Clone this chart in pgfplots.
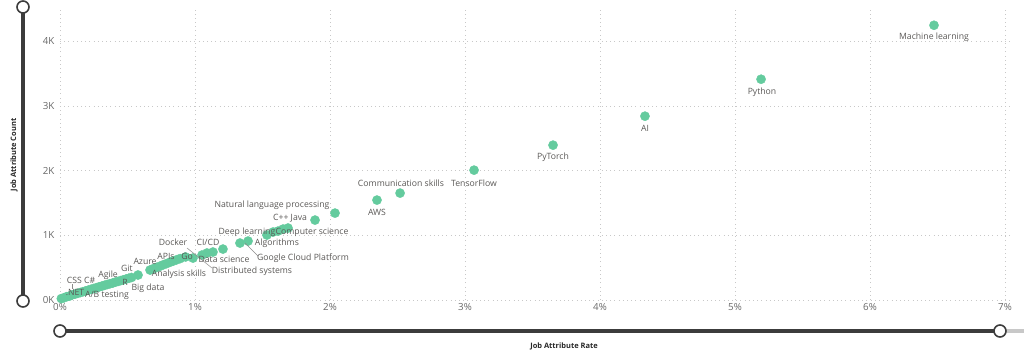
\documentclass[border=0pt]{standalone}
\usepackage{fontspec}
\setmainfont{Open Sans}
\usepackage{pgfplots}
\pgfplotsset{compat=1.18}
\definecolor{pt}{RGB}{100,203,158}
\definecolor{lbl}{RGB}{90,88,86}
\definecolor{tickc}{RGB}{105,105,105}
\definecolor{grd}{RGB}{200,200,200}
\definecolor{sl}{RGB}{60,60,60}
\definecolor{sllight}{RGB}{200,200,200}
\definecolor{ttl}{RGB}{40,40,40}
\pgfplotstableread{
x y
0.01 22
0.03 35
0.05 52
0.07 60
0.09 80
0.11 90
0.13 103
0.15 115
0.17 128
0.19 140
0.21 152
0.23 165
0.25 178
0.27 190
0.29 203
0.31 214
0.33 227
0.35 240
0.37 251
0.39 262
0.41 276
0.43 287
0.45 300
0.47 312
0.49 324
0.51 336
0.53 348
0.578 386
0.667 463
0.69 482
0.715 503
0.74 522
0.765 544
0.79 563
0.815 584
0.84 603
0.865 622
0.89 640
0.93 665
0.985 648
1.052 695
1.089 726
1.133 741
1.207 787
1.333 880
1.393 911
1.533 1004
1.578 1050
1.615 1065
1.652 1096
1.689 1112
1.889 1235
2.037 1343
2.348 1544
2.519 1652
3.067 2007
3.652 2393
4.333 2841
5.193 3412
6.474 4246
}\pts
\begin{document}
\begin{tikzpicture}
\useasboundingbox (0,0) rectangle (1024bp,356bp);
% vertical slider
\draw[sl, line width=3.5bp] (23bp,349bp) -- (23bp,55bp);
\draw[sl, line width=1.6bp, fill=white] (23bp,349bp) circle (6bp);
\draw[sl, line width=1.6bp, fill=white] (23bp,55bp) circle (6bp);
% horizontal slider
\draw[sllight, line width=3.5bp] (1000bp,25bp) -- (1024bp,25bp);
\draw[sl, line width=3.5bp] (60bp,25bp) -- (1000bp,25bp);
\draw[sl, line width=1.6bp, fill=white] (60bp,25bp) circle (6bp);
\draw[sl, line width=1.6bp, fill=white] (1000bp,25bp) circle (6bp);
% axis titles
\node[rotate=90, text=ttl, font=\fontsize{7.5}{9}\selectfont\bfseries] at (14bp,201bp) {Job Attribute Count};
\node[text=ttl, font=\fontsize{7.5}{9}\selectfont\bfseries] at (564bp,10bp) {Job Attribute Rate};
\begin{axis}[
  at={(60bp,56bp)}, anchor=south west,
  scale only axis, width=950bp, height=290bp,
  xmin=0, xmax=7.037, ymin=0, ymax=4482,
  axis line style={draw=none},
  tick style={draw=none},
  xtick={0,1,2,3,4,5,6,7},
  xticklabels={0\%,1\%,2\%,3\%,4\%,5\%,6\%,7\%},
  ytick={0,1000,2000,3000,4000},
  yticklabels={0K,1K,2K,3K,4K},
  grid=major,
  major grid style={grd, line width=0.6bp, dash pattern=on 0.8bp off 3.4bp},
  ticklabel style={font=\fontsize{9.8}{11}\selectfont, text=tickc},
  yticklabel style={xshift=-2bp},
  clip=false,
]
\addplot[only marks, mark=*, mark size=4.6bp, color=pt, mark options={draw=none, fill=pt}] table[x=x,y=y] {\pts};
\coordinate (l1a) at (axis cs:0.941,803);
\coordinate (l1b) at (axis cs:1.126,494);
\coordinate (l2a) at (axis cs:1.370,880);
\coordinate (l2b) at (axis cs:1.467,679);
\coordinate (l3a) at (axis cs:0.089,247);
\coordinate (l3b) at (axis cs:0.089,170);
\coordinate (n1) at (axis cs:6.474,4061);
\coordinate (n2) at (axis cs:5.200,3212);
\coordinate (n3) at (axis cs:4.333,2656);
\coordinate (n4) at (axis cs:3.652,2208);
\coordinate (n5) at (axis cs:3.067,1806);
\coordinate (n6) at (axis cs:2.526,1806);
\coordinate (n7) at (axis cs:2.348,1359);
\coordinate (n8) at (axis cs:1.570,1467);
\coordinate (n9) at (axis cs:1.704,1266);
\coordinate (n10) at (axis cs:1.385,1050);
\coordinate (n11) at (axis cs:1.867,1050);
\coordinate (n12) at (axis cs:0.837,896);
\coordinate (n13) at (axis cs:1.096,896);
\coordinate (n14) at (axis cs:1.607,880);
\coordinate (n15) at (axis cs:0.630,602);
\coordinate (n16) at (axis cs:0.785,679);
\coordinate (n17) at (axis cs:0.941,679);
\coordinate (n18) at (axis cs:1.215,633);
\coordinate (n19) at (axis cs:1.800,648);
\coordinate (n20) at (axis cs:0.881,401);
\coordinate (n21) at (axis cs:1.422,448);
\coordinate (n22) at (axis cs:0.496,494);
\coordinate (n23) at (axis cs:0.356,386);
\coordinate (n24) at (axis cs:0.156,309);
\coordinate (n25) at (axis cs:0.481,278);
\coordinate (n26) at (axis cs:0.652,185);
\coordinate (n27) at (axis cs:0.111,124);
\coordinate (n28) at (axis cs:0.348,77);
\end{axis}
\draw[lbl!70, line width=0.5bp] (l1a) -- (l1b);
\draw[lbl!70, line width=0.5bp] (l2a) -- (l2b);
\draw[lbl!70, line width=0.5bp] (l3a) -- (l3b);
\begin{scope}[every node/.style={text=lbl, font=\fontsize{8.7}{10}\selectfont, inner sep=0pt}]
\node at (n1) {Machine learning};
\node at (n2) {Python};
\node at (n3) {AI};
\node at (n4) {PyTorch};
\node at (n5) {TensorFlow};
\node at (n6) {Communication skills};
\node at (n7) {AWS};
\node at (n8) {Natural language processing};
\node at (n9) {C++ Java};
\node at (n10) {Deep learning};
\node at (n11) {Computer science};
\node at (n12) {Docker};
\node at (n13) {CI/CD};
\node at (n14) {Algorithms};
\node at (n15) {Azure};
\node at (n16) {APIs};
\node at (n17) {Go};
\node at (n18) {Data science};
\node at (n19) {Google Cloud Platform};
\node at (n20) {Analysis skills};
\node at (n21) {Distributed systems};
\node at (n22) {Git};
\node at (n23) {Agile};
\node at (n24) {CSS C\#};
\node at (n25) {R};
\node at (n26) {Big data};
\node at (n27) {.NET};
\node at (n28) {A/B testing};
\end{scope}
\end{tikzpicture}
\end{document}
